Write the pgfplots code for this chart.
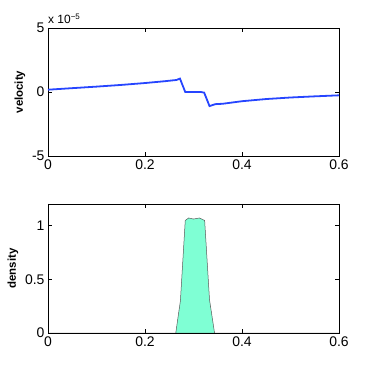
\documentclass[border=0pt]{standalone}
\usepackage{fontspec}
\setmainfont{Liberation Sans}
\usepackage{pgfplots}
\pgfplotsset{compat=1.18}

\definecolor{mblue}{rgb}{0.15,0.27,1}
\definecolor{aqua}{RGB}{127,255,212}

\pgfplotsset{
  mstyle/.style={
    scale only axis,
    width=291bp, height=129bp,
    xmin=0, xmax=0.6,
    xtick={0,0.2,0.4,0.6},
    tick align=inside,
    major tick length=4bp,
    axis line style={black, line width=0.5pt},
    tick style={black, line width=0.4pt},
    ticklabel style={font=\fontsize{14}{14}\selectfont},
    /pgf/number format/assume math mode=true,
    xticklabel style={yshift=0bp},
    ylabel style={font=\bfseries\fontsize{11.5}{11.5}\selectfont},
    every axis ylabel/.style={at={(ticklabel cs:0.5)}, rotate=90, anchor=south, yshift=-1bp},
  }
}

\begin{document}
\begin{tikzpicture}
\useasboundingbox (0bp,0bp) rectangle (374bp,375bp);

% velocity (units of 1e-5)
\begin{axis}[mstyle,
  at={(48bp,219bp)}, anchor=south west,
  height=128bp, clip=false,
  ymin=-5, ymax=5, ytick={-5,0,5},
  ylabel={velocity},
]
\addplot[mblue, line width=1.8pt] coordinates {
(0,0.18) (0.05,0.3) (0.1,0.42) (0.15,0.55) (0.2,0.7) (0.24,0.84) (0.26,0.92)
(0.265,0.94) (0.272,1.05) (0.283,0.0) (0.30,0.0) (0.315,0.0) (0.322,-0.05)
(0.333,-1.1) (0.345,-0.95) (0.36,-0.92) (0.4,-0.72) (0.45,-0.55) (0.5,-0.43)
(0.55,-0.34) (0.6,-0.26)
};
\node[anchor=south west, inner sep=0pt, font=\fontsize{12}{12}\selectfont]
  at (rel axis cs:0,1) [yshift=4bp] {x 10\textsuperscript{−5}};
\end{axis}

% density
\begin{axis}[mstyle,
  at={(48bp,42bp)}, anchor=south west,
  ymin=0, ymax=1.2, ytick={0,0.5,1},
  ylabel={density},
]
\addplot[fill=aqua, draw=black!65, line width=0.5pt] coordinates {
(0,0) (0.2634,0) (0.273,0.3) (0.283,1.047) (0.290,1.07) (0.300,1.06)
(0.312,1.07) (0.323,1.047) (0.333,0.31) (0.3434,0) (0.6,0)
} \closedcycle;
\end{axis}
\end{tikzpicture}
\end{document}
